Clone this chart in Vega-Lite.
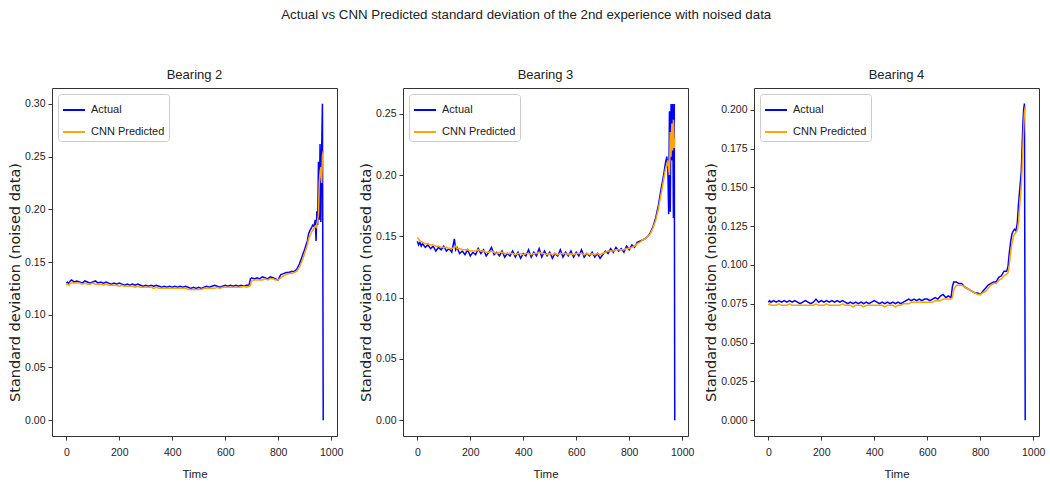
{
  "$schema": "https://vega.github.io/schema/vega-lite/v6.json",
  "background": "white",
  "padding": {"left": 7, "top": 8, "right": 5, "bottom": 0},
  "title": {"text": "Actual vs CNN Predicted standard deviation of the 2nd experience with noised data", "font": "Liberation Sans", "fontSize": 13.3, "fontWeight": "normal", "color": "#222", "anchor": "middle", "frame": "bounds", "offset": 47},
  "bounds": "flush",
  "spacing": 66,
  "resolve": {"scale": {"x": "independent", "y": "independent", "color": "independent"}, "legend": {"color": "independent"}},
  "config": {
    "view": {"stroke": "#333", "strokeWidth": 1},
    "axis": {"domain": false, "grid": false, "labelFont": "Liberation Sans", "labelFontSize": 10.5, "labelColor": "#222", "tickColor": "#333", "tickSize": 4, "labelPadding": 3, "titleFont": "DejaVu Sans", "titleFontWeight": "normal", "titleColor": "#222"},
    "axisX": {"titleFont": "Liberation Sans", "titleFontSize": 11.5, "labelPadding": 7, "titlePadding": 11, "format": "d"},
    "axisY": {"titleFontSize": 14.5, "titlePadding": 2, "titleY": 194},
    "title": {"font": "Liberation Sans", "fontSize": 13, "fontWeight": "normal", "color": "#222", "offset": 6},
    "legend": {"orient": "top-left", "offset": 6, "title": null, "symbolType": "stroke", "symbolSize": 484, "symbolStrokeWidth": 2, "labelFont": "Liberation Sans", "labelFontSize": 11, "labelColor": "#222", "labelOffset": 5, "rowPadding": 5, "padding": 4, "fillColor": "rgba(255,255,255,0.85)", "strokeColor": "#cccccc", "cornerRadius": 3}
  },
  "datasets": {
    "b2": [
      {"t":0,"Actual":0.130,"CNN Predicted":0.128},{"t":5,"Actual":0.131,"CNN Predicted":0.129},{"t":10,"Actual":0.129,"CNN Predicted":0.128},{"t":15,"Actual":0.132,"CNN Predicted":0.130},{"t":20,"Actual":0.133,"CNN Predicted":0.130},{"t":30,"Actual":0.131,"CNN Predicted":0.130},{"t":40,"Actual":0.132,"CNN Predicted":0.130},{"t":50,"Actual":0.131,"CNN Predicted":0.130},{"t":60,"Actual":0.130,"CNN Predicted":0.129},{"t":70,"Actual":0.132,"CNN Predicted":0.130},{"t":80,"Actual":0.131,"CNN Predicted":0.129},{"t":90,"Actual":0.130,"CNN Predicted":0.129},{"t":100,"Actual":0.131,"CNN Predicted":0.130},{"t":110,"Actual":0.132,"CNN Predicted":0.129},{"t":120,"Actual":0.130,"CNN Predicted":0.129},{"t":130,"Actual":0.131,"CNN Predicted":0.129},{"t":140,"Actual":0.130,"CNN Predicted":0.128},{"t":150,"Actual":0.131,"CNN Predicted":0.129},{"t":160,"Actual":0.130,"CNN Predicted":0.128},{"t":170,"Actual":0.129,"CNN Predicted":0.128},{"t":180,"Actual":0.130,"CNN Predicted":0.128},{"t":190,"Actual":0.129,"CNN Predicted":0.128},{"t":200,"Actual":0.130,"CNN Predicted":0.127},{"t":210,"Actual":0.129,"CNN Predicted":0.128},{"t":220,"Actual":0.128,"CNN Predicted":0.127},{"t":230,"Actual":0.129,"CNN Predicted":0.127},{"t":240,"Actual":0.128,"CNN Predicted":0.127},{"t":250,"Actual":0.129,"CNN Predicted":0.127},{"t":260,"Actual":0.128,"CNN Predicted":0.126},{"t":270,"Actual":0.129,"CNN Predicted":0.127},{"t":280,"Actual":0.128,"CNN Predicted":0.126},{"t":290,"Actual":0.127,"CNN Predicted":0.126},{"t":300,"Actual":0.128,"CNN Predicted":0.126},{"t":310,"Actual":0.127,"CNN Predicted":0.126},{"t":320,"Actual":0.128,"CNN Predicted":0.126},{"t":330,"Actual":0.127,"CNN Predicted":0.125},{"t":340,"Actual":0.128,"CNN Predicted":0.126},{"t":350,"Actual":0.127,"CNN Predicted":0.125},{"t":360,"Actual":0.126,"CNN Predicted":0.125},{"t":370,"Actual":0.127,"CNN Predicted":0.125},{"t":380,"Actual":0.126,"CNN Predicted":0.125},{"t":390,"Actual":0.127,"CNN Predicted":0.125},{"t":400,"Actual":0.126,"CNN Predicted":0.125},{"t":410,"Actual":0.127,"CNN Predicted":0.125},{"t":420,"Actual":0.126,"CNN Predicted":0.125},{"t":430,"Actual":0.127,"CNN Predicted":0.125},{"t":440,"Actual":0.126,"CNN Predicted":0.125},{"t":450,"Actual":0.127,"CNN Predicted":0.125},{"t":460,"Actual":0.126,"CNN Predicted":0.124},{"t":470,"Actual":0.125,"CNN Predicted":0.124},{"t":480,"Actual":0.126,"CNN Predicted":0.124},{"t":490,"Actual":0.125,"CNN Predicted":0.124},{"t":500,"Actual":0.126,"CNN Predicted":0.124},{"t":510,"Actual":0.125,"CNN Predicted":0.124},{"t":520,"Actual":0.126,"CNN Predicted":0.125},{"t":530,"Actual":0.127,"CNN Predicted":0.125},{"t":540,"Actual":0.126,"CNN Predicted":0.125},{"t":550,"Actual":0.127,"CNN Predicted":0.125},{"t":560,"Actual":0.128,"CNN Predicted":0.125},{"t":570,"Actual":0.127,"CNN Predicted":0.126},{"t":580,"Actual":0.126,"CNN Predicted":0.125},{"t":590,"Actual":0.127,"CNN Predicted":0.126},{"t":600,"Actual":0.128,"CNN Predicted":0.126},{"t":610,"Actual":0.127,"CNN Predicted":0.126},{"t":620,"Actual":0.128,"CNN Predicted":0.126},{"t":630,"Actual":0.127,"CNN Predicted":0.126},{"t":640,"Actual":0.128,"CNN Predicted":0.126},{"t":650,"Actual":0.127,"CNN Predicted":0.126},{"t":660,"Actual":0.128,"CNN Predicted":0.126},{"t":670,"Actual":0.127,"CNN Predicted":0.127},{"t":680,"Actual":0.128,"CNN Predicted":0.126},{"t":690,"Actual":0.128,"CNN Predicted":0.127},{"t":695,"Actual":0.134,"CNN Predicted":0.128},{"t":700,"Actual":0.135,"CNN Predicted":0.132},{"t":710,"Actual":0.134,"CNN Predicted":0.133},{"t":720,"Actual":0.135,"CNN Predicted":0.133},{"t":730,"Actual":0.134,"CNN Predicted":0.133},{"t":740,"Actual":0.136,"CNN Predicted":0.133},{"t":750,"Actual":0.135,"CNN Predicted":0.134},{"t":760,"Actual":0.134,"CNN Predicted":0.133},{"t":770,"Actual":0.136,"CNN Predicted":0.134},{"t":780,"Actual":0.135,"CNN Predicted":0.134},{"t":790,"Actual":0.134,"CNN Predicted":0.133},{"t":800,"Actual":0.133,"CNN Predicted":0.133},{"t":805,"Actual":0.136,"CNN Predicted":0.134},{"t":810,"Actual":0.138,"CNN Predicted":0.135},{"t":820,"Actual":0.139,"CNN Predicted":0.137},{"t":830,"Actual":0.140,"CNN Predicted":0.138},{"t":840,"Actual":0.140,"CNN Predicted":0.139},{"t":850,"Actual":0.141,"CNN Predicted":0.139},{"t":860,"Actual":0.141,"CNN Predicted":0.140},{"t":870,"Actual":0.143,"CNN Predicted":0.141},{"t":880,"Actual":0.148,"CNN Predicted":0.145},{"t":890,"Actual":0.155,"CNN Predicted":0.151},{"t":900,"Actual":0.162,"CNN Predicted":0.158},{"t":910,"Actual":0.170,"CNN Predicted":0.166},{"t":915,"Actual":0.177,"CNN Predicted":0.172},{"t":920,"Actual":0.180,"CNN Predicted":0.175},{"t":925,"Actual":0.182,"CNN Predicted":0.178},{"t":930,"Actual":0.185,"CNN Predicted":0.180},{"t":935,"Actual":0.184,"CNN Predicted":0.182},{"t":940,"Actual":0.190,"CNN Predicted":0.184},{"t":943,"Actual":0.170,"CNN Predicted":0.183},{"t":946,"Actual":0.198,"CNN Predicted":0.186},{"t":949,"Actual":0.185,"CNN Predicted":0.190},{"t":952,"Actual":0.245,"CNN Predicted":0.195},{"t":955,"Actual":0.190,"CNN Predicted":0.225},{"t":958,"Actual":0.262,"CNN Predicted":0.235},{"t":961,"Actual":0.188,"CNN Predicted":0.240},{"t":964,"Actual":0.255,"CNN Predicted":0.225},{"t":967,"Actual":0.300,"CNN Predicted":0.250},{"t":970,"Actual":0.000,"CNN Predicted":0.255}
    ],
    "b3": [
      {"t":0,"Actual":0.146,"CNN Predicted":0.149},{"t":5,"Actual":0.143,"CNN Predicted":0.148},{"t":10,"Actual":0.145,"CNN Predicted":0.146},{"t":15,"Actual":0.142,"CNN Predicted":0.146},{"t":20,"Actual":0.144,"CNN Predicted":0.145},{"t":30,"Actual":0.141,"CNN Predicted":0.144},{"t":40,"Actual":0.143,"CNN Predicted":0.144},{"t":50,"Actual":0.140,"CNN Predicted":0.143},{"t":60,"Actual":0.142,"CNN Predicted":0.143},{"t":70,"Actual":0.138,"CNN Predicted":0.142},{"t":80,"Actual":0.141,"CNN Predicted":0.142},{"t":90,"Actual":0.139,"CNN Predicted":0.141},{"t":100,"Actual":0.142,"CNN Predicted":0.141},{"t":110,"Actual":0.138,"CNN Predicted":0.141},{"t":120,"Actual":0.140,"CNN Predicted":0.140},{"t":130,"Actual":0.137,"CNN Predicted":0.140},{"t":140,"Actual":0.148,"CNN Predicted":0.141},{"t":145,"Actual":0.139,"CNN Predicted":0.142},{"t":150,"Actual":0.141,"CNN Predicted":0.140},{"t":160,"Actual":0.136,"CNN Predicted":0.140},{"t":170,"Actual":0.138,"CNN Predicted":0.139},{"t":180,"Actual":0.135,"CNN Predicted":0.139},{"t":190,"Actual":0.139,"CNN Predicted":0.139},{"t":200,"Actual":0.134,"CNN Predicted":0.138},{"t":210,"Actual":0.137,"CNN Predicted":0.138},{"t":220,"Actual":0.135,"CNN Predicted":0.138},{"t":230,"Actual":0.140,"CNN Predicted":0.139},{"t":240,"Actual":0.136,"CNN Predicted":0.138},{"t":250,"Actual":0.139,"CNN Predicted":0.138},{"t":260,"Actual":0.134,"CNN Predicted":0.137},{"t":270,"Actual":0.137,"CNN Predicted":0.137},{"t":280,"Actual":0.141,"CNN Predicted":0.138},{"t":290,"Actual":0.135,"CNN Predicted":0.137},{"t":300,"Actual":0.137,"CNN Predicted":0.136},{"t":310,"Actual":0.134,"CNN Predicted":0.137},{"t":320,"Actual":0.138,"CNN Predicted":0.137},{"t":330,"Actual":0.133,"CNN Predicted":0.136},{"t":340,"Actual":0.136,"CNN Predicted":0.136},{"t":350,"Actual":0.134,"CNN Predicted":0.136},{"t":360,"Actual":0.138,"CNN Predicted":0.136},{"t":370,"Actual":0.133,"CNN Predicted":0.135},{"t":380,"Actual":0.137,"CNN Predicted":0.136},{"t":390,"Actual":0.132,"CNN Predicted":0.136},{"t":400,"Actual":0.136,"CNN Predicted":0.135},{"t":410,"Actual":0.134,"CNN Predicted":0.136},{"t":420,"Actual":0.139,"CNN Predicted":0.136},{"t":430,"Actual":0.133,"CNN Predicted":0.135},{"t":440,"Actual":0.137,"CNN Predicted":0.136},{"t":450,"Actual":0.134,"CNN Predicted":0.136},{"t":460,"Actual":0.140,"CNN Predicted":0.137},{"t":470,"Actual":0.133,"CNN Predicted":0.136},{"t":480,"Actual":0.138,"CNN Predicted":0.136},{"t":490,"Actual":0.134,"CNN Predicted":0.135},{"t":500,"Actual":0.137,"CNN Predicted":0.136},{"t":510,"Actual":0.132,"CNN Predicted":0.135},{"t":520,"Actual":0.136,"CNN Predicted":0.136},{"t":530,"Actual":0.134,"CNN Predicted":0.135},{"t":540,"Actual":0.139,"CNN Predicted":0.136},{"t":550,"Actual":0.133,"CNN Predicted":0.136},{"t":560,"Actual":0.137,"CNN Predicted":0.136},{"t":570,"Actual":0.134,"CNN Predicted":0.135},{"t":580,"Actual":0.138,"CNN Predicted":0.136},{"t":590,"Actual":0.133,"CNN Predicted":0.135},{"t":600,"Actual":0.137,"CNN Predicted":0.136},{"t":610,"Actual":0.134,"CNN Predicted":0.136},{"t":620,"Actual":0.139,"CNN Predicted":0.136},{"t":630,"Actual":0.133,"CNN Predicted":0.135},{"t":640,"Actual":0.136,"CNN Predicted":0.136},{"t":650,"Actual":0.134,"CNN Predicted":0.135},{"t":660,"Actual":0.137,"CNN Predicted":0.136},{"t":670,"Actual":0.133,"CNN Predicted":0.135},{"t":680,"Actual":0.136,"CNN Predicted":0.136},{"t":690,"Actual":0.132,"CNN Predicted":0.135},{"t":700,"Actual":0.135,"CNN Predicted":0.136},{"t":710,"Actual":0.138,"CNN Predicted":0.137},{"t":720,"Actual":0.136,"CNN Predicted":0.138},{"t":730,"Actual":0.140,"CNN Predicted":0.138},{"t":740,"Actual":0.137,"CNN Predicted":0.138},{"t":750,"Actual":0.141,"CNN Predicted":0.139},{"t":760,"Actual":0.138,"CNN Predicted":0.139},{"t":770,"Actual":0.140,"CNN Predicted":0.139},{"t":780,"Actual":0.137,"CNN Predicted":0.139},{"t":790,"Actual":0.142,"CNN Predicted":0.140},{"t":800,"Actual":0.139,"CNN Predicted":0.140},{"t":810,"Actual":0.143,"CNN Predicted":0.141},{"t":820,"Actual":0.141,"CNN Predicted":0.142},{"t":830,"Actual":0.145,"CNN Predicted":0.144},{"t":840,"Actual":0.146,"CNN Predicted":0.145},{"t":850,"Actual":0.147,"CNN Predicted":0.147},{"t":860,"Actual":0.148,"CNN Predicted":0.148},{"t":870,"Actual":0.150,"CNN Predicted":0.150},{"t":880,"Actual":0.153,"CNN Predicted":0.152},{"t":890,"Actual":0.158,"CNN Predicted":0.157},{"t":900,"Actual":0.165,"CNN Predicted":0.163},{"t":910,"Actual":0.175,"CNN Predicted":0.172},{"t":920,"Actual":0.188,"CNN Predicted":0.184},{"t":930,"Actual":0.200,"CNN Predicted":0.196},{"t":937,"Actual":0.210,"CNN Predicted":0.205},{"t":942,"Actual":0.215,"CNN Predicted":0.208},{"t":946,"Actual":0.205,"CNN Predicted":0.212},{"t":949,"Actual":0.168,"CNN Predicted":0.205},{"t":952,"Actual":0.252,"CNN Predicted":0.200},{"t":955,"Actual":0.170,"CNN Predicted":0.235},{"t":958,"Actual":0.258,"CNN Predicted":0.215},{"t":961,"Actual":0.212,"CNN Predicted":0.242},{"t":964,"Actual":0.258,"CNN Predicted":0.220},{"t":967,"Actual":0.165,"CNN Predicted":0.245},{"t":970,"Actual":0.258,"CNN Predicted":0.222},{"t":972,"Actual":0.000,"CNN Predicted":0.230}
    ],
    "b4": [
      {"t":0,"Actual":0.076,"CNN Predicted":0.074},{"t":5,"Actual":0.077,"CNN Predicted":0.075},{"t":10,"Actual":0.076,"CNN Predicted":0.074},{"t":20,"Actual":0.077,"CNN Predicted":0.074},{"t":30,"Actual":0.076,"CNN Predicted":0.074},{"t":40,"Actual":0.077,"CNN Predicted":0.075},{"t":50,"Actual":0.076,"CNN Predicted":0.074},{"t":60,"Actual":0.077,"CNN Predicted":0.074},{"t":70,"Actual":0.076,"CNN Predicted":0.074},{"t":80,"Actual":0.077,"CNN Predicted":0.075},{"t":90,"Actual":0.076,"CNN Predicted":0.074},{"t":100,"Actual":0.077,"CNN Predicted":0.074},{"t":110,"Actual":0.076,"CNN Predicted":0.074},{"t":120,"Actual":0.075,"CNN Predicted":0.074},{"t":130,"Actual":0.076,"CNN Predicted":0.074},{"t":140,"Actual":0.077,"CNN Predicted":0.074},{"t":150,"Actual":0.076,"CNN Predicted":0.074},{"t":160,"Actual":0.075,"CNN Predicted":0.074},{"t":170,"Actual":0.076,"CNN Predicted":0.074},{"t":180,"Actual":0.078,"CNN Predicted":0.075},{"t":190,"Actual":0.076,"CNN Predicted":0.074},{"t":200,"Actual":0.077,"CNN Predicted":0.074},{"t":210,"Actual":0.076,"CNN Predicted":0.074},{"t":220,"Actual":0.077,"CNN Predicted":0.075},{"t":230,"Actual":0.076,"CNN Predicted":0.074},{"t":240,"Actual":0.077,"CNN Predicted":0.074},{"t":250,"Actual":0.076,"CNN Predicted":0.074},{"t":260,"Actual":0.077,"CNN Predicted":0.074},{"t":270,"Actual":0.076,"CNN Predicted":0.074},{"t":280,"Actual":0.077,"CNN Predicted":0.075},{"t":290,"Actual":0.076,"CNN Predicted":0.074},{"t":300,"Actual":0.075,"CNN Predicted":0.074},{"t":310,"Actual":0.076,"CNN Predicted":0.074},{"t":320,"Actual":0.075,"CNN Predicted":0.073},{"t":330,"Actual":0.076,"CNN Predicted":0.074},{"t":340,"Actual":0.075,"CNN Predicted":0.074},{"t":350,"Actual":0.076,"CNN Predicted":0.074},{"t":360,"Actual":0.075,"CNN Predicted":0.073},{"t":370,"Actual":0.076,"CNN Predicted":0.074},{"t":380,"Actual":0.075,"CNN Predicted":0.074},{"t":390,"Actual":0.076,"CNN Predicted":0.074},{"t":400,"Actual":0.077,"CNN Predicted":0.074},{"t":410,"Actual":0.076,"CNN Predicted":0.074},{"t":420,"Actual":0.075,"CNN Predicted":0.074},{"t":430,"Actual":0.076,"CNN Predicted":0.074},{"t":440,"Actual":0.075,"CNN Predicted":0.073},{"t":450,"Actual":0.076,"CNN Predicted":0.074},{"t":460,"Actual":0.075,"CNN Predicted":0.074},{"t":470,"Actual":0.076,"CNN Predicted":0.074},{"t":480,"Actual":0.075,"CNN Predicted":0.073},{"t":490,"Actual":0.076,"CNN Predicted":0.074},{"t":500,"Actual":0.075,"CNN Predicted":0.074},{"t":510,"Actual":0.076,"CNN Predicted":0.075},{"t":520,"Actual":0.077,"CNN Predicted":0.075},{"t":530,"Actual":0.078,"CNN Predicted":0.075},{"t":540,"Actual":0.077,"CNN Predicted":0.076},{"t":550,"Actual":0.078,"CNN Predicted":0.076},{"t":560,"Actual":0.077,"CNN Predicted":0.076},{"t":570,"Actual":0.078,"CNN Predicted":0.076},{"t":580,"Actual":0.077,"CNN Predicted":0.076},{"t":590,"Actual":0.078,"CNN Predicted":0.076},{"t":600,"Actual":0.078,"CNN Predicted":0.076},{"t":610,"Actual":0.077,"CNN Predicted":0.076},{"t":620,"Actual":0.078,"CNN Predicted":0.076},{"t":630,"Actual":0.079,"CNN Predicted":0.077},{"t":640,"Actual":0.078,"CNN Predicted":0.077},{"t":650,"Actual":0.080,"CNN Predicted":0.077},{"t":660,"Actual":0.081,"CNN Predicted":0.078},{"t":670,"Actual":0.079,"CNN Predicted":0.078},{"t":680,"Actual":0.080,"CNN Predicted":0.078},{"t":690,"Actual":0.079,"CNN Predicted":0.078},{"t":695,"Actual":0.086,"CNN Predicted":0.079},{"t":700,"Actual":0.089,"CNN Predicted":0.084},{"t":710,"Actual":0.089,"CNN Predicted":0.087},{"t":720,"Actual":0.088,"CNN Predicted":0.087},{"t":730,"Actual":0.088,"CNN Predicted":0.087},{"t":740,"Actual":0.086,"CNN Predicted":0.086},{"t":750,"Actual":0.085,"CNN Predicted":0.085},{"t":760,"Actual":0.084,"CNN Predicted":0.084},{"t":770,"Actual":0.083,"CNN Predicted":0.083},{"t":780,"Actual":0.082,"CNN Predicted":0.082},{"t":790,"Actual":0.082,"CNN Predicted":0.081},{"t":800,"Actual":0.081,"CNN Predicted":0.081},{"t":810,"Actual":0.083,"CNN Predicted":0.082},{"t":820,"Actual":0.085,"CNN Predicted":0.083},{"t":830,"Actual":0.087,"CNN Predicted":0.085},{"t":840,"Actual":0.088,"CNN Predicted":0.087},{"t":850,"Actual":0.089,"CNN Predicted":0.088},{"t":860,"Actual":0.089,"CNN Predicted":0.088},{"t":870,"Actual":0.092,"CNN Predicted":0.090},{"t":880,"Actual":0.093,"CNN Predicted":0.091},{"t":890,"Actual":0.096,"CNN Predicted":0.093},{"t":900,"Actual":0.096,"CNN Predicted":0.094},{"t":905,"Actual":0.099,"CNN Predicted":0.095},{"t":910,"Actual":0.108,"CNN Predicted":0.100},{"t":915,"Actual":0.115,"CNN Predicted":0.108},{"t":920,"Actual":0.120,"CNN Predicted":0.114},{"t":925,"Actual":0.122,"CNN Predicted":0.118},{"t":930,"Actual":0.123,"CNN Predicted":0.120},{"t":935,"Actual":0.122,"CNN Predicted":0.121},{"t":940,"Actual":0.127,"CNN Predicted":0.122},{"t":945,"Actual":0.140,"CNN Predicted":0.128},{"t":950,"Actual":0.150,"CNN Predicted":0.140},{"t":955,"Actual":0.160,"CNN Predicted":0.150},{"t":958,"Actual":0.175,"CNN Predicted":0.160},{"t":961,"Actual":0.190,"CNN Predicted":0.175},{"t":964,"Actual":0.200,"CNN Predicted":0.188},{"t":967,"Actual":0.204,"CNN Predicted":0.198},{"t":970,"Actual":0.000,"CNN Predicted":0.202}
    ]
  },
  "hconcat": [
    {
      "title": "Bearing 2",
      "width": 285, "height": 348,
      "data": {"name": "b2"},
      "transform": [{"fold": ["Actual", "CNN Predicted"], "as": ["series", "value"]}],
      "mark": {"type": "line", "strokeWidth": 1.5},
      "encoding": {
        "x": {"field": "t", "type": "quantitative", "scale": {"domain": [-54, 1022], "nice": false, "zero": false}, "axis": {"values": [0, 200, 400, 600, 800, 1000], "title": "Time"}},
        "y": {"field": "value", "type": "quantitative", "scale": {"domain": [-0.015, 0.315], "nice": false, "zero": false}, "axis": {"values": [0, 0.05, 0.1, 0.15, 0.2, 0.25, 0.3], "format": ".2f", "title": "Standard deviation (noised data)"}},
        "color": {"field": "series", "type": "nominal", "scale": {"domain": ["Actual", "CNN Predicted"], "range": ["#0000ff", "#ffa500"]}, "legend": {"orient": "top-left"}}
      }
    },
    {
      "title": "Bearing 3",
      "width": 285, "height": 348,
      "data": {"name": "b3"},
      "transform": [{"fold": ["Actual", "CNN Predicted"], "as": ["series", "value"]}],
      "mark": {"type": "line", "strokeWidth": 1.5},
      "encoding": {
        "x": {"field": "t", "type": "quantitative", "scale": {"domain": [-54, 1022], "nice": false, "zero": false}, "axis": {"values": [0, 200, 400, 600, 800, 1000], "title": "Time"}},
        "y": {"field": "value", "type": "quantitative", "scale": {"domain": [-0.0129, 0.271], "nice": false, "zero": false}, "axis": {"values": [0, 0.05, 0.1, 0.15, 0.2, 0.25], "format": ".2f", "title": "Standard deviation (noised data)"}},
        "color": {"field": "series", "type": "nominal", "scale": {"domain": ["Actual", "CNN Predicted"], "range": ["#0000ff", "#ffa500"]}, "legend": {"orient": "top-left"}}
      }
    },
    {
      "title": "Bearing 4",
      "width": 285, "height": 348,
      "data": {"name": "b4"},
      "transform": [{"fold": ["Actual", "CNN Predicted"], "as": ["series", "value"]}],
      "mark": {"type": "line", "strokeWidth": 1.5},
      "encoding": {
        "x": {"field": "t", "type": "quantitative", "scale": {"domain": [-54, 1022], "nice": false, "zero": false}, "axis": {"values": [0, 200, 400, 600, 800, 1000], "title": "Time"}},
        "y": {"field": "value", "type": "quantitative", "scale": {"domain": [-0.0102, 0.214], "nice": false, "zero": false}, "axis": {"values": [0, 0.025, 0.05, 0.075, 0.1, 0.125, 0.15, 0.175, 0.2], "format": ".3f", "title": "Standard deviation (noised data)"}},
        "color": {"field": "series", "type": "nominal", "scale": {"domain": ["Actual", "CNN Predicted"], "range": ["#0000ff", "#ffa500"]}, "legend": {"orient": "top-left"}}
      }
    }
  ]
}
